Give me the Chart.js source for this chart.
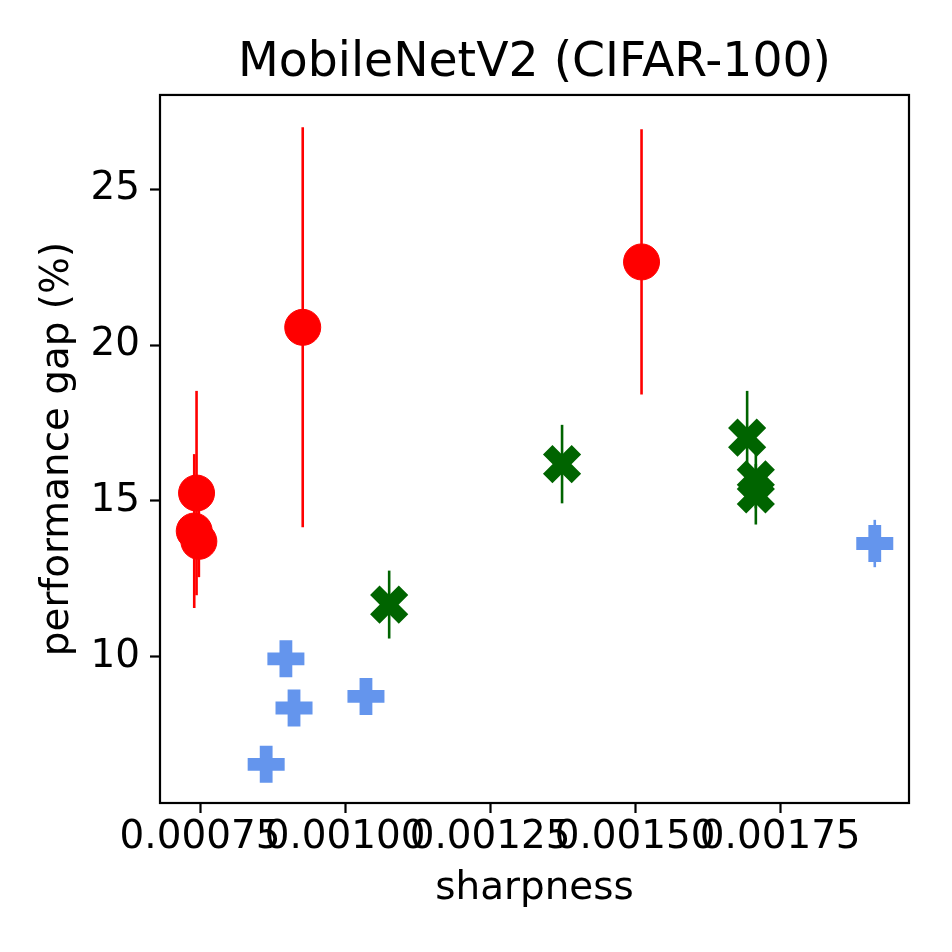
<!DOCTYPE html>
<html>
<head>
<meta charset="utf-8">
<script src="https://cdn.jsdelivr.net/npm/chart.js@4"></script>
<style>
  body { margin: 0; background: #fff; }
</style>
</head>
<body>
<canvas id="gapChart" width="952" height="952"></canvas>
<script>
// values
const redX = [0.000744, 0.000740, 0.000748, 0.000927, 0.001511];
const redY = [15.25, 14.03, 13.70, 20.57, 22.67];
const redErr = [3.28, 2.47, 1.15, 6.42, 4.26];

const greenX = [0.001076, 0.001374, 0.001693, 0.001708, 0.001708];
const greenY = [11.67, 16.18, 17.03, 15.69, 15.21];
const greenErr = [1.09, 1.26, 1.5, 0.93, 0.97];

const blueX = [0.000864, 0.000898, 0.000912, 0.001036, 0.001913];
const blueY = [6.54, 9.93, 8.35, 8.72, 13.63];
const blueErr = [0.23, 0.3, 0.3, 0.3, 0.76];

const xTicks = [0.00075, 0.001, 0.00125, 0.0015, 0.00175];
const yTicks = [10, 15, 20, 25];

const FONT = "'DejaVu Sans', sans-serif";

function toPoints(xs, ys) {
  return xs.map((x, i) => ({ x, y: ys[i] }));
}

// vertical error bars, drawn under the markers
const errorBars = {
  id: "errorBars",
  beforeDatasetsDraw(chart) {
    const { ctx, scales: { x, y } } = chart;
    chart.data.datasets.forEach((ds) => {
      ctx.save();
      ctx.strokeStyle = ds.backgroundColor;
      ctx.lineWidth = 2.6;
      ds.data.forEach((pt, i) => {
        const err = ds.errors[i];
        const px = x.getPixelForValue(pt.x);
        ctx.beginPath();
        ctx.moveTo(px, y.getPixelForValue(pt.y - err));
        ctx.lineTo(px, y.getPixelForValue(pt.y + err));
        ctx.stroke();
      });
      ctx.restore();
    });
  },
};

// full box round the plot area
const frame = {
  id: "frame",
  afterDatasetsDraw(chart) {
    const { ctx, chartArea: a } = chart;
    ctx.save();
    ctx.strokeStyle = "#000";
    ctx.lineWidth = 2.2;
    ctx.strokeRect(a.left, a.top, a.right - a.left, a.bottom - a.top);
    ctx.restore();
  },
};

const ctx = document.getElementById("gapChart").getContext("2d");

new Chart(ctx, {
  type: "scatter",
  data: {
    datasets: [
      {
        data: toPoints(redX, redY),
        errors: redErr,
        backgroundColor: "#ff0000",
        borderColor: "#ff0000",
        pointStyle: "circle",
        pointRadius: 18,
        borderWidth: 1,
      },
      {
        data: toPoints(greenX, greenY),
        errors: greenErr,
        backgroundColor: "#006400",
        borderColor: "#006400",
        pointStyle: "crossRot",
        pointRadius: 20.3,
        borderWidth: 13.4,
      },
      {
        data: toPoints(blueX, blueY),
        errors: blueErr,
        backgroundColor: "#6495ed",
        borderColor: "#6495ed",
        pointStyle: "cross",
        pointRadius: 18.5,
        borderWidth: 12.8,
      },
    ],
  },
  options: {
    responsive: false,
    animation: false,
    events: [],
    layout: { padding: { left: 0, right: 43, top: 0, bottom: 0 } },
    plugins: {
      legend: { display: false },
      tooltip: { enabled: false },
      title: {
        display: true,
        fullSize: false,
        align: "center",
        text: "MobileNetV2 (CIFAR-100)",
        color: "#000",
        font: { size: 47.3, family: FONT, weight: "normal", lineHeight: 1.2 },
        padding: { top: 35.5, bottom: 2.7 },
      },
    },
    scales: {
      x: {
        type: "linear",
        min: 0.000681,
        max: 0.001972,
        afterBuildTicks: (scale) => {
          scale.ticks = xTicks.map((v) => ({ value: v }));
        },
        afterFit: (scale) => {
          scale.height = 149;
        },
        border: { display: false },
        grid: {
          drawOnChartArea: false,
          drawTicks: true,
          tickLength: 10,
          tickWidth: 2.2,
          tickColor: "#000",
        },
        ticks: {
          autoSkip: false,
          maxRotation: 0,
          minRotation: 0,
          padding: 2,
          color: "#000",
          font: { size: 38.9, family: FONT, lineHeight: 1.2 },
          callback: (v) => Number(v).toFixed(5),
        },
        title: {
          display: true,
          text: "sharpness",
          color: "#000",
          font: { size: 38.9, family: FONT, lineHeight: 1.2 },
          padding: { top: 0, bottom: 40 },
        },
      },
      y: {
        type: "linear",
        min: 5.30,
        max: 28.03,
        afterBuildTicks: (scale) => {
          scale.ticks = yTicks.map((v) => ({ value: v }));
        },
        afterFit: (scale) => {
          scale.width = 160;
        },
        border: { display: false },
        grid: {
          drawOnChartArea: false,
          drawTicks: true,
          tickLength: 10,
          tickWidth: 2.2,
          tickColor: "#000",
        },
        ticks: {
          padding: 10,
          color: "#000",
          font: { size: 38.9, family: FONT, lineHeight: 1.2 },
          callback: (v) => String(v),
        },
        title: {
          display: true,
          text: "performance gap (%)",
          color: "#000",
          font: { size: 38.9, family: FONT, lineHeight: 1.2 },
          padding: { top: 35, bottom: 0 },
        },
      },
    },
  },
  plugins: [errorBars, frame],
});
</script>
</body>
</html>
